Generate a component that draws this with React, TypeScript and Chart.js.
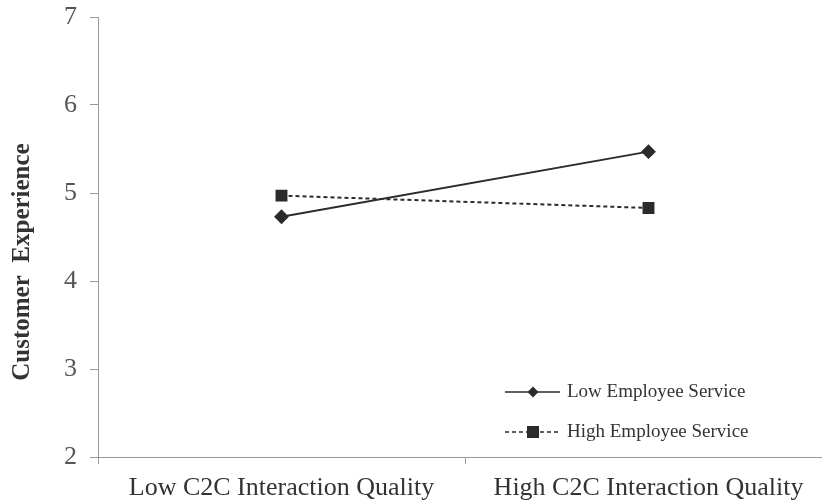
import React, { useEffect, useRef } from "react";
import { Chart, registerables } from "chart.js";

Chart.register(...registerables);

const categories = ["Low C2C Interaction Quality", "High C2C Interaction Quality"];
const lowEmployeeService = [4.73, 5.47];
const highEmployeeService = [4.97, 4.83];
const seriesNames = ["Low Employee Service", "High Employee Service"];
const yTicks = [2, 3, 4, 5, 6, 7];
const yTitle = "Customer  Experience";

const FONT = "'Liberation Serif', 'DejaVu Serif', serif";

const legendPlugin = {
  id: "insideLegend",
  afterDraw(chart: any) {
    const ctx = chart.ctx;
    const ds = chart.data.datasets;
    const x0 = 505;
    const x1 = 560;
    const rows = [392, 432];
    ctx.save();
    ds.forEach((d: any, i: number) => {
      const y = rows[i];
      ctx.strokeStyle = d.borderColor;
      ctx.lineWidth = 1.6;
      ctx.setLineDash(d.borderDash || []);
      ctx.beginPath();
      ctx.moveTo(x0, y);
      ctx.lineTo(x1, y);
      ctx.stroke();
      ctx.setLineDash([]);
      ctx.fillStyle = d.pointBackgroundColor;
      const cx = 533;
      if (d.pointStyle === "rectRot") {
        const r = 5.5;
        ctx.beginPath();
        ctx.moveTo(cx, y - r);
        ctx.lineTo(cx + r, y);
        ctx.lineTo(cx, y + r);
        ctx.lineTo(cx - r, y);
        ctx.closePath();
        ctx.fill();
      } else {
        const s = 6;
        ctx.fillRect(cx - s, y - s, 2 * s, 2 * s);
      }
      ctx.fillStyle = "#333";
      ctx.font = "19px " + FONT;
      ctx.textAlign = "left";
      ctx.textBaseline = "middle";
      ctx.fillText(d.label, 567, y);
    });
    // y-axis title
    ctx.translate(23, 262);
    ctx.rotate(-Math.PI / 2);
    ctx.fillStyle = "#333";
    ctx.font = "bold 25px " + FONT;
    ctx.textAlign = "center";
    ctx.textBaseline = "middle";
    ctx.fillText(yTitle, 0, 0);
    ctx.restore();
  },
};

export default function App() {
  const ref = useRef<HTMLCanvasElement>(null);
  useEffect(() => {
    if (!ref.current) return;
    const chart = new Chart(ref.current, {
      type: "line",
      data: {
        labels: categories,
        datasets: [
          {
            label: seriesNames[0],
            data: lowEmployeeService,
            borderColor: "#2b2b2b",
            backgroundColor: "#2b2b2b",
            pointBackgroundColor: "#2b2b2b",
            pointBorderColor: "#2b2b2b",
            borderWidth: 2,
            pointStyle: "rectRot",
            pointRadius: 6,
          },
          {
            label: seriesNames[1],
            data: highEmployeeService,
            borderColor: "#2b2b2b",
            backgroundColor: "#2b2b2b",
            pointBackgroundColor: "#2b2b2b",
            pointBorderColor: "#2b2b2b",
            borderWidth: 2,
            borderDash: [4, 3],
            pointStyle: "rect",
            pointRadius: 7,
          },
        ],
      },
      options: {
        responsive: false,
        animation: false,
        layout: { padding: { top: 17, right: 18, left: 0, bottom: 0 } },
        plugins: {
          legend: { display: false },
          tooltip: { enabled: false },
        },
        scales: {
          x: {
            type: "category",
            offset: true,
            grid: {
              offset: true,
              drawOnChartArea: false,
              drawTicks: true,
              tickLength: 7,
              color: "#999",
            },
            border: { color: "#999", width: 1 },
            ticks: {
              color: "#333",
              font: { family: FONT, size: 26 },
              padding: 9,
              maxRotation: 0,
            },
            afterFit(scale: any) {
              scale.height = 46;
            },
          },
          y: {
            min: 2,
            max: 7,
            afterBuildTicks(scale: any) {
              scale.ticks = yTicks.map((v) => ({ value: v }));
            },
            grid: {
              drawOnChartArea: false,
              drawTicks: true,
              tickLength: 8,
              color: "#999",
            },
            border: { color: "#999", width: 1 },
            ticks: {
              color: "#555",
              font: { family: FONT, size: 26 },
              padding: 13,
            },
            title: { display: false },
            afterFit(scale: any) {
              scale.width = 98;
              scale.paddingTop = 0;
              scale.paddingBottom = 0;
            },
          },
        },
      },
      plugins: [legendPlugin],
    });
    return () => chart.destroy();
  }, []);
  return (
    <div style={{ position: "fixed", left: 0, top: 0, width: 822, height: 503, overflow: "hidden", background: "#fff" }}>
      <canvas ref={ref} width={850} height={503} style={{ display: "block" }} />
    </div>
  );
}
